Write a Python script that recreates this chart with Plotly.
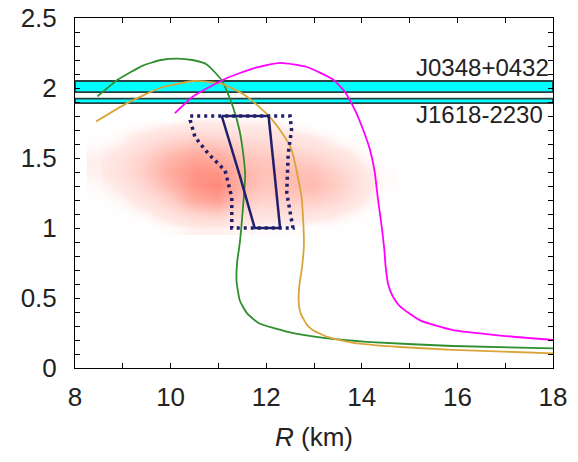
import plotly.graph_objects as go

# ---------------- data ----------------
green_R = [8.47, 8.9, 9.42, 9.8, 10.15, 10.45, 10.75, 11.08, 11.3, 11.44, 11.53, 11.56, 11.51, 11.45, 11.39, 11.38, 11.45, 11.6, 11.85, 12.43, 13.2, 14.2, 15.9, 18.0]
green_M = [1.94, 2.06, 2.16, 2.2, 2.21, 2.2, 2.17, 2.05, 1.87, 1.70, 1.5, 1.37, 1.13, 0.90, 0.75, 0.62, 0.48, 0.39, 0.32, 0.26, 0.215, 0.185, 0.157, 0.14]

orange_R = [8.44, 9.08, 9.78, 10.5, 11.07, 11.5, 11.87, 12.11, 12.35, 12.53, 12.74, 12.79, 12.75, 12.69, 12.68, 12.72, 12.85, 12.98, 13.3, 13.82, 14.8, 15.9, 18.0]
orange_M = [1.76, 1.89, 2.00, 2.05, 2.03, 1.96, 1.86, 1.78, 1.67, 1.56, 1.22, 0.89, 0.72, 0.58, 0.47, 0.39, 0.31, 0.27, 0.22, 0.18, 0.15, 0.13, 0.105]

magenta_R = [10.09, 10.47, 11.17, 11.73, 12.29, 12.85, 13.4, 13.65, 13.86, 14.03, 14.17, 14.27, 14.34, 14.42, 14.47, 14.5, 14.55, 14.65, 14.8, 15.22, 15.91, 16.95, 18.0]
magenta_M = [1.82, 1.94, 2.07, 2.14, 2.18, 2.15, 2.06, 1.97, 1.84, 1.70, 1.56, 1.40, 1.20, 1.00, 0.85, 0.72, 0.60, 0.51, 0.44, 0.34, 0.27, 0.23, 0.20]

solid_R = [11.07, 12.05, 12.18, 12.29, 11.76, 11.45, 11.07]
solid_M = [1.80, 1.80, 1.37, 1.00, 1.00, 1.37, 1.80]

dotted_R = [10.41, 12.50, 12.53, 12.46, 12.43, 12.56, 11.28, 11.28, 11.14, 10.79, 10.51, 10.41, 10.41]
dotted_M = [1.80, 1.80, 1.70, 1.53, 1.25, 1.00, 1.00, 1.22, 1.41, 1.53, 1.65, 1.77, 1.80]

band_names = ["J0348+0432", "J1618-2230"]
band_center = [2.01, 1.908]
band_err = [0.04, 0.016]
label_R = [15.1, 15.1]
label_M = [2.15, 1.81]

cloud_R = [8.5, 9.0, 9.5, 10.0, 10.5, 11.0, 11.5, 12.0, 12.5, 13.0, 13.5, 14.0, 14.5]
cloud_M = [1.0, 1.1, 1.2, 1.3, 1.4, 1.5, 1.6, 1.7, 1.8]
cloud_density = [
    [0.00, 0.00, 0.02, 0.05, 0.10, 0.10, 0.08, 0.05, 0.05, 0.03, 0.02, 0.00, 0.00],
    [0.00, 0.03, 0.08, 0.20, 0.35, 0.40, 0.25, 0.20, 0.22, 0.18, 0.12, 0.05, 0.00],
    [0.03, 0.08, 0.20, 0.40, 0.70, 0.80, 0.45, 0.35, 0.42, 0.40, 0.30, 0.12, 0.02],
    [0.06, 0.15, 0.35, 0.60, 0.90, 1.00, 0.60, 0.45, 0.55, 0.55, 0.40, 0.18, 0.04],
    [0.10, 0.25, 0.45, 0.70, 0.90, 0.90, 0.60, 0.50, 0.55, 0.50, 0.35, 0.15, 0.04],
    [0.10, 0.20, 0.40, 0.60, 0.75, 0.70, 0.50, 0.45, 0.42, 0.35, 0.22, 0.08, 0.02],
    [0.05, 0.10, 0.25, 0.40, 0.50, 0.45, 0.35, 0.30, 0.25, 0.18, 0.08, 0.03, 0.00],
    [0.00, 0.05, 0.10, 0.15, 0.20, 0.20, 0.15, 0.15, 0.10, 0.05, 0.02, 0.00, 0.00],
    [0.00, 0.00, 0.00, 0.00, 0.05, 0.05, 0.05, 0.05, 0.00, 0.00, 0.00, 0.00, 0.00],
]

x_range = [8, 18]
y_range = [0, 2.5]

FONT = "Liberation Sans, Arial, sans-serif"
NAVY = "#1f1f6b"

fig = go.Figure()

fig.add_trace(go.Heatmap(
    x=cloud_R, y=cloud_M, z=cloud_density, zsmooth="best", showscale=False,
    zmin=0, zmax=1, hoverinfo="skip",
    colorscale=[[0, "rgba(255,255,255,0)"], [0.12, "rgba(255,180,170,0.3)"],
                [0.6, "rgba(255,120,100,0.55)"], [1, "rgba(255,90,70,0.72)"]],
))

for c, e in zip(band_center, band_err):
    fig.add_trace(go.Scatter(
        x=[x_range[0], x_range[1], x_range[1], x_range[0], x_range[0]],
        y=[c - e, c - e, c + e, c + e, c - e],
        mode="lines", fill="toself", fillcolor="#00ffff",
        line=dict(color="#2a3f3f", width=1.8), hoverinfo="skip", showlegend=False))

for xs, ys, col in [(green_R, green_M, "#2f8f2f"), (orange_R, orange_M, "#d9a53a"),
                    (magenta_R, magenta_M, "#ff00ff")]:
    fig.add_trace(go.Scatter(x=xs, y=ys, mode="lines",
                             line=dict(color=col, width=1.8, shape="spline", smoothing=0.5),
                             showlegend=False, hoverinfo="skip"))

fig.add_trace(go.Scatter(x=solid_R, y=solid_M, mode="lines", line=dict(color=NAVY, width=2.5),
                         showlegend=False, hoverinfo="skip"))
fig.add_trace(go.Scatter(x=dotted_R, y=dotted_M, mode="lines", line=dict(color=NAVY, width=3.5, dash="3px,4px"),
                         showlegend=False, hoverinfo="skip"))

for name, lx, ly in zip(band_names, label_R, label_M):
    fig.add_annotation(x=lx, y=ly, text=name, showarrow=False, xanchor="left", yanchor="middle",
                       font=dict(family=FONT, size=24, color="#222"))

axis_common = dict(showline=True, linecolor="black", linewidth=1, mirror="ticks", ticks="inside",
                   ticklen=5, tickcolor="black", showgrid=False, zeroline=False, automargin=False,
                   ticklabeloverflow="allow",
                   tickfont=dict(family=FONT, size=26, color="#222"))
fig.update_xaxes(range=x_range, dtick=2, tick0=8, ticklabelstandoff=6,
                 minor=dict(dtick=1, ticks="inside", ticklen=5, tickcolor="black", showgrid=False),
                 title=dict(text="<i>R</i> (km)", font=dict(family=FONT, size=26, color="#222"), standoff=16),
                 **axis_common)
fig.update_yaxes(range=y_range, dtick=0.5, tick0=0, ticklabelstandoff=12,
                 minor=dict(dtick=0.1, ticks="inside", ticklen=5, tickcolor="black", showgrid=False),
                 **axis_common)

fig.update_layout(width=578, height=462, margin=dict(l=75, r=25, t=18, b=94),
                  paper_bgcolor="white", plot_bgcolor="white", showlegend=False)

# remove the browser's default 8px body margin so the figure fills the window exactly
fig.write_html("out.html", config={"displayModeBar": False},
               post_script="document.body.style.margin='0';")
